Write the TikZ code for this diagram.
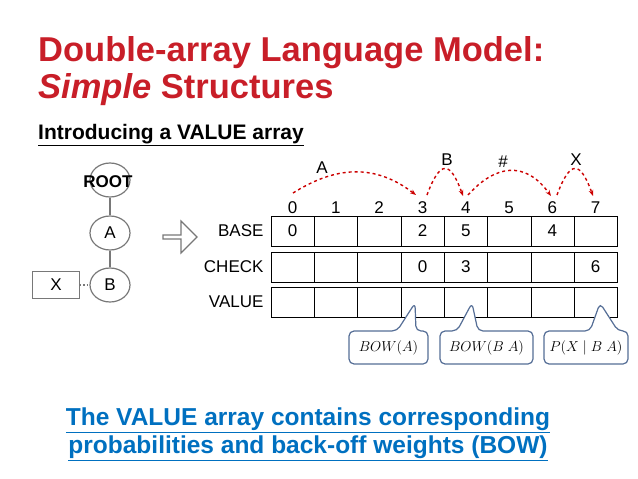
\documentclass[tikz,border=0pt]{standalone}
\usepackage{fontspec}
\setmainfont{Liberation Sans}
\usetikzlibrary{shapes.arrows,shapes.geometric,arrows.meta}
\definecolor{tred}{RGB}{200,30,40}
\definecolor{tblue}{RGB}{0,112,192}
\definecolor{cblue}{RGB}{85,110,150}
\definecolor{agray}{RGB}{120,120,120}
\begin{document}
\begin{tikzpicture}[x=1pt,y=-1pt,
 cell/.style={draw,minimum width=43.3pt,minimum height=30pt,inner sep=0pt},
 tnode/.style={draw=agray,line width=1.2pt,ellipse,minimum width=40pt,minimum height=34pt,inner sep=0pt,font=\fontsize{17}{17}\selectfont},
 jump/.style={-{Stealth[length=6pt]},red!80!black,dashed,line width=1.4pt},
 lab/.style={font=\fontsize{17}{17}\selectfont},
 call/.style={draw=cblue,line width=1.2pt,fill=white,rounded corners=5pt}]
\useasboundingbox (0,0) rectangle (638,479);
\node[anchor=base west,text=tred,font=\bfseries\fontsize{34.5}{34.5}\selectfont,inner sep=0pt] (t1) at (38,61) {Double-array Language Model:};
\node[anchor=base west,text=tred,font=\bfseries\fontsize{34.5}{34.5}\selectfont,inner sep=0pt] (t2) at (38,98) {\itshape Simple\upshape{} Structures};
\node[anchor=base west,font=\bfseries\fontsize{21}{21}\selectfont,inner sep=0pt] (st) at (38,139) {\underline{Introducing a VALUE array}};
% tree
\node[tnode] (root) at (110,180) {};
\node[font=\bfseries\fontsize{17}{17}\selectfont] (rl) at (108,182) {ROOT};
\node[tnode] (a) at (110,233) {A};
\node[tnode] (b) at (110,285) {B};
\node[draw=agray,line width=1.2pt,minimum width=47pt,minimum height=27pt,font=\fontsize{17}{17}\selectfont] (x) at (56,285) {X};
\draw[agray,line width=1.2pt] (root) -- (a);
\draw[agray,line width=1.2pt] (a) -- (b);
\draw[agray,line width=1.2pt,dotted] (x) -- (b);
\node[draw=agray,line width=1.2pt,single arrow,minimum width=32pt,single arrow head extend=4pt,minimum height=34pt,inner sep=0pt] (arr) at (179,237) {};
% arrays
\foreach \r/\y/\n in {0/231/BASE,1/267/CHECK,2/302/VALUE}{
 \node[lab,anchor=east] (rl\r) at (267,\y) {\n};
 \foreach \c in {0,...,7}{
  \node[cell] (c\r\c) at (292.6+43.3*\c,\y) {};
 }
}
\foreach \c in {0,...,7}{ \node[lab] (ix\c) at (292.6+43.3*\c,208) {\c}; }
\node[lab] at (c00) {0}; \node[lab] at (c03) {2}; \node[lab] at (c04) {5}; \node[lab] at (c06) {4};
\node[lab] at (c13) {0}; \node[lab] at (c14) {3}; \node[lab] at (c17) {6};
% jumps
\coordinate (j0) at (293,193); \coordinate (j3) at (416,195);
\coordinate (k3) at (427,195); \coordinate (k4) at (463,196);
\coordinate (m4) at (468,195); \coordinate (m6) at (551,196);
\coordinate (n6) at (557,195); \coordinate (n7) at (593,196);
\draw[jump] (j0) .. controls (330,170) and (370,160) .. (j3);
\draw[jump] (k3) .. controls (440,160) and (450,160) .. (k4);
\draw[jump] (m4) .. controls (495,165) and (525,160) .. (m6);
\draw[jump] (n6) .. controls (570,160) and (580,160) .. (n7);
\node[lab] (la) at (322,168) {A};
\node[lab] (lb) at (447,160) {B};
\node[lab] (lh) at (503,162) {\#};
\node[lab] (lx) at (576,160) {X};
% callouts
\draw[call] (349,331) -- (397,331) -- (415,303) -- (416,331) -- (428,331) -- (428,364) -- (349,364) -- cycle;
\draw[call] (440,331) -- (457,331) -- (472,303) -- (478,331) -- (533,331) -- (533,364) -- (440,364) -- cycle;
\draw[call] (544,331) -- (590,331) -- (600,303) -- (618,331) -- (628,331) -- (628,364) -- (544,364) -- cycle;
\node[font=\fontsize{15}{15}\selectfont] (ca) at (388.5,348) {$BOW(A)$};
\node[font=\fontsize{15}{15}\selectfont] (cb) at (486.5,348) {$BOW(B\;A)$};
\node[font=\fontsize{15}{15}\selectfont] (cc) at (586,348) {$P(X\mid B\;A)$};
% bottom
\node[text=tblue,font=\bfseries\fontsize{24.5}{28}\selectfont,align=center] (bt) at (308,434) {\underline{The VALUE array contains corresponding}\\\underline{probabilities and back-off weights (BOW)}};
\end{tikzpicture}
\end{document}
